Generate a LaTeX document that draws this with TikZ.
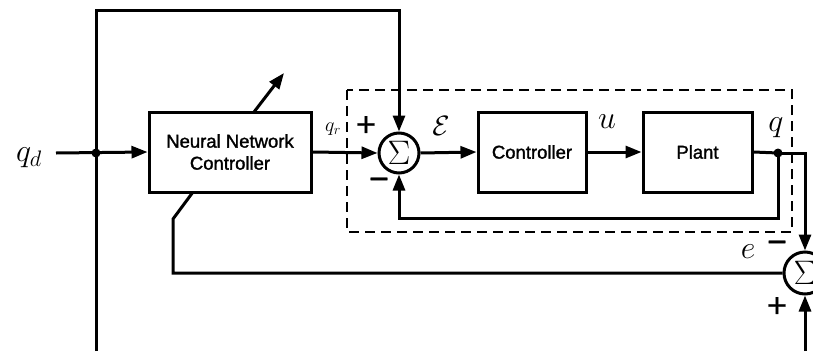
\RequirePackage{fix-cm}
\documentclass[tikz,border=0pt]{standalone}
\usepackage{fontspec}
\newfontfamily\boxfont{Liberation Sans}[FakeBold=1.5]
\newfontfamily\signfont{Liberation Sans}[FakeBold=1]
\usetikzlibrary{arrows.meta}
\begin{document}
\begin{tikzpicture}[x=1pt,y=-1pt,line width=3pt,
  >={Triangle[length=16pt,width=12pt]},
  blk/.style={draw,line width=3pt,align=center,minimum height=80pt,inner sep=0pt,
    font=\boxfont\fontsize{18.5}{22}\selectfont},
  sumc/.style={circle,draw,line width=3pt,inner sep=0pt,font=\fontsize{34}{34}\selectfont},
  lbl/.style={inner sep=0pt,font=\fontsize{32}{32}\selectfont},
  sgn/.style={inner sep=0pt,font=\signfont\fontsize{34}{34}\selectfont},
  jdot/.style={circle,fill,inner sep=0pt,minimum size=9pt}]
\useasboundingbox (0,0) rectangle (813,351);
% blocks
\node[blk,minimum width=162pt] (nn) at (230,152) {Neural Network\\Controller};
\node[blk,minimum width=108pt] (ctrl) at (532,152) {Controller};
\node[blk,minimum width=109pt] (plant) at (697.5,152) {Plant};
\node[sumc,minimum size=40pt] (s1) at (399,153) {$\Sigma$};
\node[sumc,minimum size=42pt] (s2) at (805,273) {$\Sigma$};
% dashed region
\draw[line width=2.4pt,dash pattern=on 10pt off 6pt] (347,90) rectangle (792,232);
% coordinates
\coordinate (qdin) at (56,153);
\node[jdot] (j1) at (96,153) {};
\coordinate (lb) at (96,351);
\coordinate (lt) at (96,10);
\node[jdot] (j2) at (778,153) {};
\coordinate (fb) at (778,218);
\coordinate (oc) at (805,153);
\coordinate (rb) at (805,351);
\coordinate (nnb) at (193,192);
\coordinate (e1) at (173,219);
\coordinate (e2) at (173,273);
\coordinate (a1) at (254,112);
\coordinate (a2) at (284,73);
% connectors
\draw[->] (qdin) -- (nn.west);
\draw[->] (lb) -- (lt) -| (s1.north);
\draw[->] (nn.east) -- (s1.west);
\draw[->] (s1.east) -- (ctrl.west);
\draw[->] (ctrl.east) -- (plant.west);
\draw (plant.east) -- (j2.center);
\draw[->] (j2.center) -- (fb) -| (s1.south);
\draw[->] (j2.center) -- (oc) -- (s2.north);
\draw[->] (rb) -- (s2.south);
\draw (nnb) -- (e1) -- (e2) -- (s2.west);
\draw[->] (a1) -- (a2);
% labels
\node[lbl] (lqd) at (29,158) {$q_d$};
\node[lbl,font=\fontsize{20}{20}\selectfont] (lqr) at (333,129) {$q_r$};
\node[sgn] (p1) at (366,126) {+};
\node[sgn] (m1) at (379,184) {\textminus};
\node[lbl,font=\fontsize{28}{28}\selectfont] (leps) at (441,126) {$\mathcal{E}$};
\node[lbl] (lu) at (607,122) {$u$};
\node[lbl] (lq) at (776,128) {$q$};
\node[lbl] (le) at (748,252) {$e$};
\node[sgn] (m2) at (777,247) {\textminus};
\node[sgn] (p2) at (777,307) {+};
\end{tikzpicture}
\end{document}
